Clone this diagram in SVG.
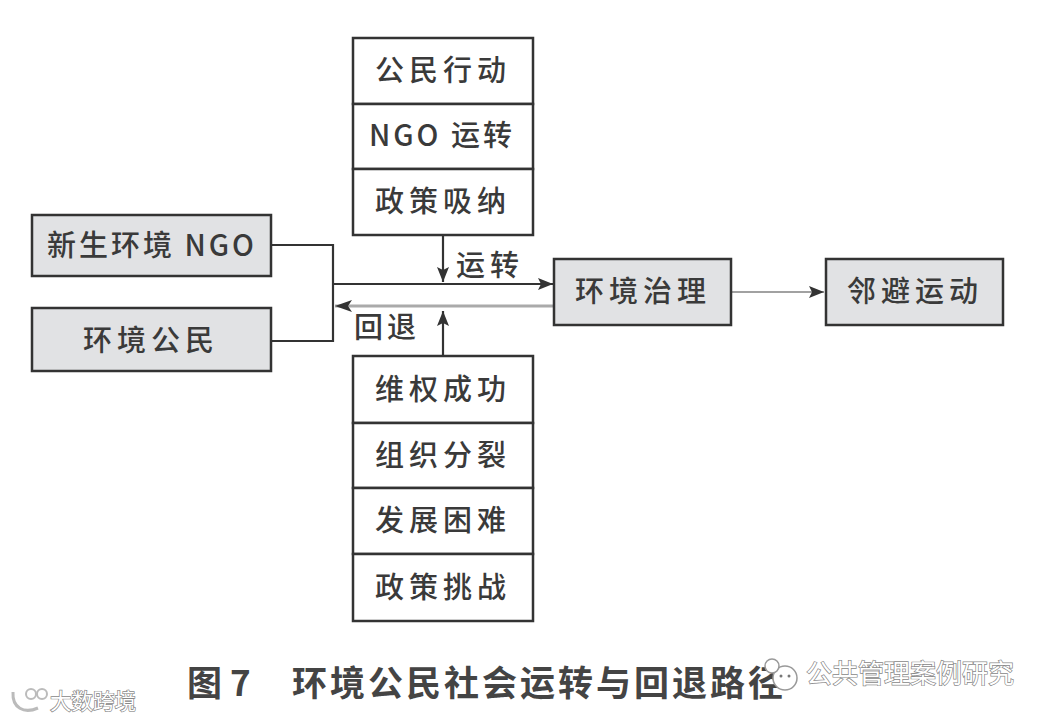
<svg xmlns="http://www.w3.org/2000/svg" width="1046" height="720" viewBox="0 0 1046 720">
<style>
text{font-family:"Noto Sans CJK SC","Liberation Serif",sans-serif;fill:#3a3a3a}
.g{fill:#e1e2e4;stroke:#333;stroke-width:2.5}
.w{fill:#fff;stroke:#333;stroke-width:2.5}
.l{font-size:29px;text-anchor:middle;dominant-baseline:central;font-weight:500}
.c{fill:none;stroke:#333;stroke-width:2.2}
.cap{font-size:35px;font-weight:700;fill:#444}
.wm{fill:#fff;stroke:#888;stroke-width:1.4;paint-order:stroke}
.ic{fill:none;stroke:#fff;stroke-width:2.5}
</style>
<defs>
<marker id="a" markerUnits="userSpaceOnUse" markerWidth="16" markerHeight="12" refX="15" refY="6" orient="auto"><path d="M0 0L15 6L0 12L3 6Z" fill="#333"/></marker>
</defs>
<rect width="1046" height="720" fill="#fff"/>
<g id="connectors">
<path class="c" d="M271 245H333V341H271"/>
<path class="c" d="M333 284H553" marker-end="url(#a)"/>
<path d="M553 306H335" fill="none" stroke="#aaa" stroke-width="3"/>
<path d="M352 300L335 306L352 312L348 306Z" fill="#333"/>
<path class="c" d="M443 235V282" marker-end="url(#a)"/>
<path class="c" d="M443 356V311" marker-end="url(#a)"/>
<path d="M731 292H824" fill="none" stroke="#444" stroke-width="1.2" marker-end="url(#a)"/>
</g>
<g id="n-action"><rect class="w" x="353" y="38" width="180" height="66"/><text class="l" style="letter-spacing:5px" x="443" y="68">公民行动</text></g>
<g id="n-ngo"><rect class="w" x="353" y="104" width="180" height="65"/><text class="l" style="letter-spacing:3px" x="442" y="133">NGO 运转</text></g>
<g id="n-policy"><rect class="w" x="353" y="169" width="180" height="66"/><text class="l" style="letter-spacing:5px" x="443" y="199">政策吸纳</text></g>
<g id="n-new"><rect class="g" x="32" y="215" width="239" height="61"/><text class="l" style="letter-spacing:3px" x="152" y="243">新生环境 NGO</text></g>
<g id="n-citizen"><rect class="g" x="32" y="308" width="239" height="63"/><text class="l" style="letter-spacing:5px" x="151" y="338">环境公民</text></g>
<g id="n-gov"><rect class="g" x="554" y="259" width="177" height="66"/><text class="l" style="letter-spacing:5px" x="643" y="289">环境治理</text></g>
<g id="n-nimby"><rect class="g" x="826" y="259" width="177" height="66"/><text class="l" style="letter-spacing:5px" x="915" y="289">邻避运动</text></g>
<g id="n-win"><rect class="w" x="353" y="356" width="180" height="67"/><text class="l" style="letter-spacing:5px" x="443" y="387">维权成功</text></g>
<g id="n-split"><rect class="w" x="353" y="423" width="180" height="65"/><text class="l" style="letter-spacing:5px" x="443" y="453">组织分裂</text></g>
<g id="n-hard"><rect class="w" x="353" y="488" width="180" height="66"/><text class="l" style="letter-spacing:5px" x="443" y="518">发展困难</text></g>
<g id="n-chal"><rect class="w" x="353" y="554" width="180" height="67"/><text class="l" style="letter-spacing:5px" x="443" y="585">政策挑战</text></g>
<text class="l" x="490" y="263" style="letter-spacing:5px">运转</text>
<text class="l" x="387" y="325" style="letter-spacing:4px">回退</text>
<text class="cap" x="187" y="696">图 7</text>
<text class="cap" x="292" y="696" style="letter-spacing:3px">环境公民社会运转与回退路径</text>
<text class="wm" x="806" y="683" font-size="26">公共管理案例研究</text>
<text class="wm" x="50" y="709" font-size="21.5">大数跨境</text>
<g id="wm-icon-a"><circle cx="785" cy="678" r="12" fill="#fff" stroke="#999" stroke-width="1.5"/><circle cx="781" cy="676" r="1.5" fill="#777"/><circle cx="789" cy="676" r="1.5" fill="#777"/><circle cx="772" cy="666" r="7" fill="#fff" stroke="#999" stroke-width="1.5"/></g>
<g id="wm-icon-b"><path d="M13 692C12 708 24 714 38 708" fill="none" stroke="#bbb" stroke-width="3"/><circle cx="31" cy="694" r="5" fill="#fff" stroke="#bbb" stroke-width="2"/><circle cx="42" cy="694" r="5" fill="#fff" stroke="#bbb" stroke-width="2"/></g>
</svg>
